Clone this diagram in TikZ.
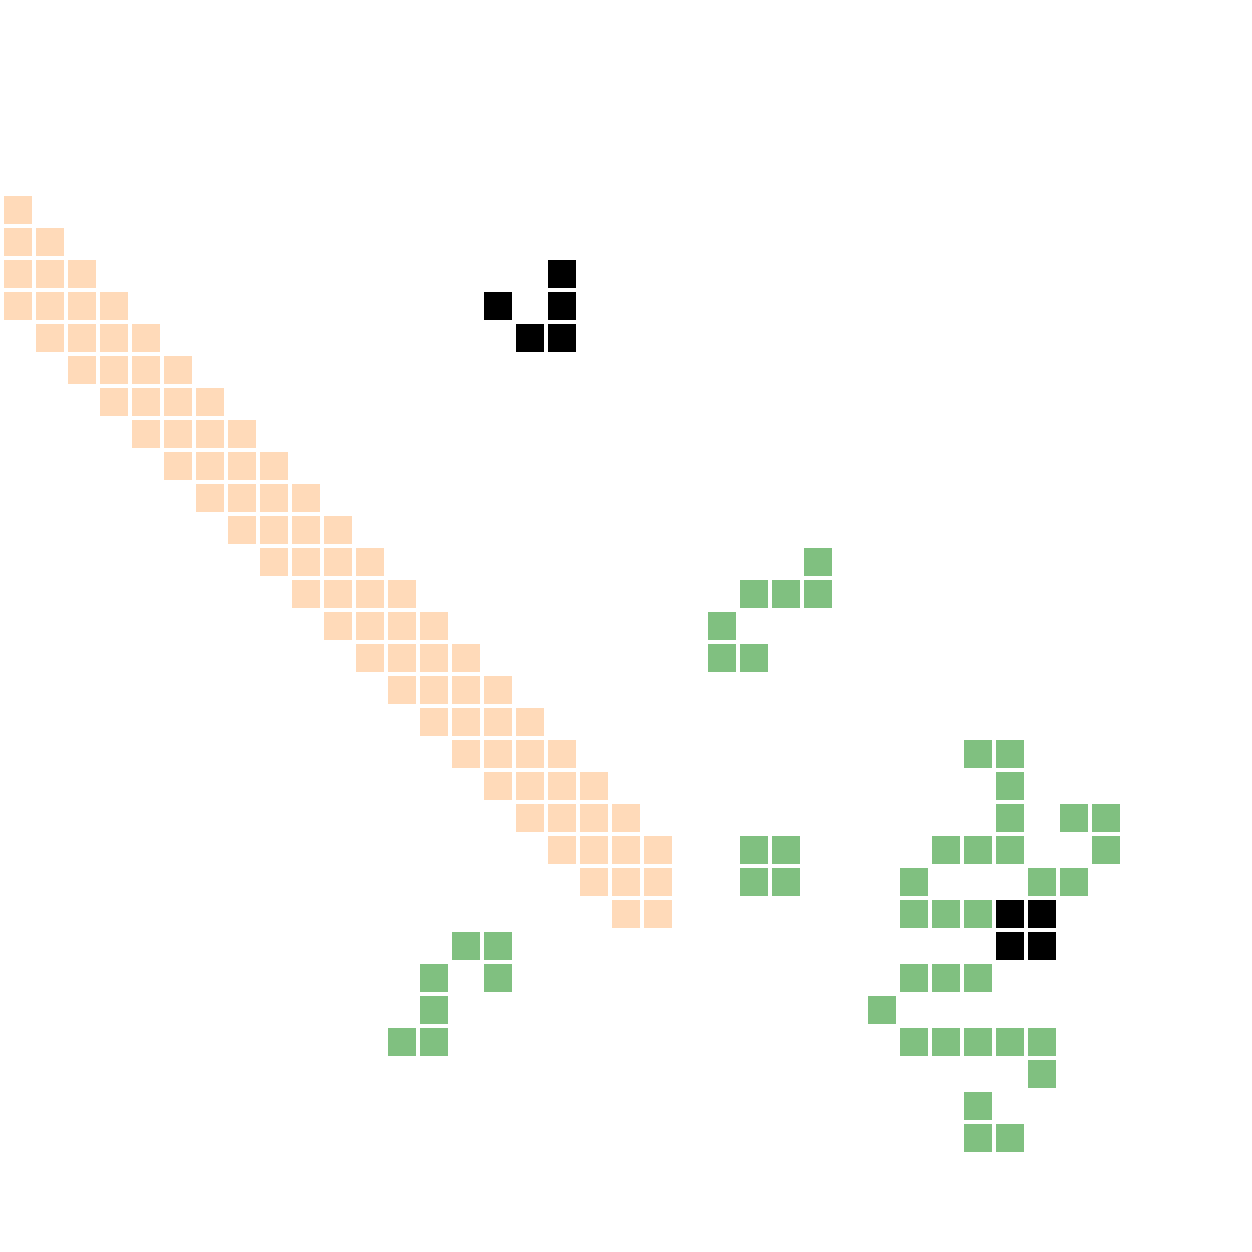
\documentclass[tikz,border=0pt]{standalone}
\usepackage{tikz}
\definecolor{cellpeach}{RGB}{255,218,185}
\definecolor{cellgreen}{RGB}{128,192,128}
\definecolor{cellblack}{RGB}{0,0,0}

\begin{document}
\begin{tikzpicture}[
    x=0.4cm, y=-0.4cm,
    peachcell/.style={fill=cellpeach, draw=none},
    greencell/.style={fill=cellgreen, draw=none},
    blackcell/.style={fill=cellblack, draw=none}
]
\useasboundingbox (0,0) rectangle (39.125,39.125);

% diagonal band
\foreach \r in {6,...,28} {
    \pgfmathtruncatemacro{\cfrom}{max(0,\r-9)}
    \pgfmathtruncatemacro{\cto}{min(\r-6,20)}
    \foreach \c in {\cfrom,...,\cto}
        \fill[peachcell] (\c+0.125,\r+0.125) rectangle (\c+1,\r+1);
}

% green cells (column/row)
\foreach \c/\r in {25/17, 23/18, 24/18, 25/18, 22/19, 22/20, 23/20,
                   30/23, 31/23, 31/24, 31/25, 33/25, 34/25,
                   29/26, 30/26, 31/26, 34/26, 23/26, 24/26,
                   28/27, 32/27, 33/27, 23/27, 24/27,
                   28/28, 29/28, 30/28,
                   14/29, 15/29, 13/30, 15/30, 13/31, 12/32, 13/32,
                   28/30, 29/30, 30/30, 27/31,
                   28/32, 29/32, 30/32, 31/32, 32/32,
                   32/33, 30/34, 30/35, 31/35}
    \fill[greencell] (\c+0.125,\r+0.125) rectangle (\c+1,\r+1);

% black cells
\foreach \c/\r in {17/8, 15/9, 17/9, 16/10, 17/10,
                   31/28, 32/28, 31/29, 32/29}
    \fill[blackcell] (\c+0.125,\r+0.125) rectangle (\c+1,\r+1);

\end{tikzpicture}
\end{document}
